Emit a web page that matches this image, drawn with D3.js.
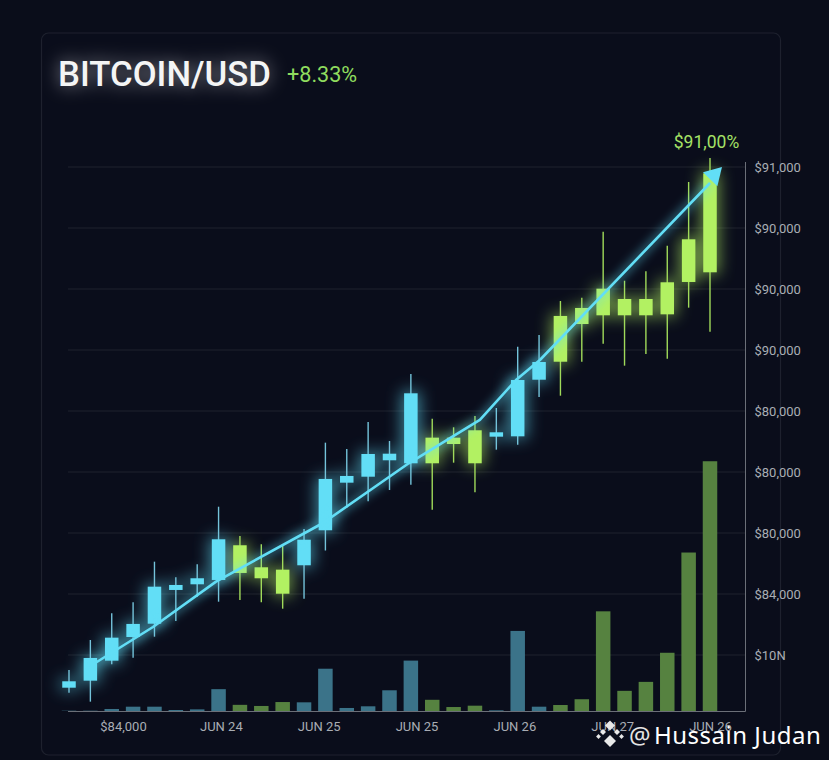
<!DOCTYPE html>
<html>
<head>
<meta charset="utf-8">
<title>Bitcoin/USD</title>
<script src="https://cdn.jsdelivr.net/npm/d3@7"></script>
<style>
  html, body { margin: 0; padding: 0; background: #0a0d1a; }
  svg { display: block; }
  text { font-family: Roboto, sans-serif; }
</style>
</head>
<body>
<div id="chart"></div>
<script>
// Candles, left to right. Side 0 = cyan, 1 = green
const highs = [82754,83246,83684,83864,84530,84274,84487,85431,84951,84815,84820,85066,86481,86377,86820,86508,87607,86874,86733,86918,87049,88054,88246,88803,88858,89939,89136,89290,89710,90754,91148];
const lows = [82382,82235,82848,82956,83300,83558,83956,83874,83902,83864,83759,83923,84713,85415,85520,85705,85792,85382,86153,85667,86366,86448,87230,87251,87808,88103,87743,87935,87858,88694,88300];
const bodyTops = [82569,82951,83284,83509,84120,84148,84258,84897,84799,84438,84399,84890,85886,85935,86295,86300,87290,86563,86563,86684,86651,87508,87803,88558,88689,89005,88836,88836,89110,89815,90897];
const bodyBottoms = [82464,82579,82907,83295,83513,84066,84159,84230,84345,84258,84005,84471,85045,85825,85923,86192,86143,86143,86459,86143,86579,86585,87513,87808,88426,88569,88569,88569,88585,89115,89274];
const sides = [0,0,0,0,0,0,0,0,1,1,1,0,0,0,0,0,0,1,1,1,0,0,0,1,1,1,1,1,1,1,1];
const volumes = [0.05,0.05,0.36,0.77,0.77,0.18,0.29,3.9,1.1,0.9,1.6,1.55,7.55,0.54,0.84,3.7,9,2,0.71,0.95,0.12,14.3,0.77,1.07,2.1,17.8,3.6,5.2,10.4,28.3,44.6];

// Trend arrow: position in candle units and price
const trendIndex = [1,3.93,6.88,11.89,15.9,19.23,20.92,22.04,30,30.56];
const trendPrice = [82820,83459,84202,85164,86143,86853,87508,87836,90738,91000];

const priceTicks = [91000,90000,89000,88000,87000,86000,85000,84000];
const priceLabels = ['$91,000','$90,000','$90,000','$90,000','$80,000','$80,000','$80,000','$84,000'];
const volumeTicks = [10];
const volumeLabels = ['$10N'];
const dateLabels = ['$84,000','JUN 24','JUN 25','JUN 25','JUN 26','JUN 27','JUN 26'];

const width = 829;
const height = 760;
const cyan = '#62def6';
const green = '#b2f162';

const svg = d3.select('#chart').append('svg')
  .attr('width', width)
  .attr('height', height)
  .attr('viewBox', `0 0 ${width} ${height}`);

const defs = svg.append('defs');
function blur(id, amount) {
  defs.append('filter').attr('id', id)
    .attr('x', '-60%').attr('y', '-60%').attr('width', '220%').attr('height', '220%')
    .append('feGaussianBlur').attr('stdDeviation', amount);
}
blur('glow', 8);
blur('titleGlow', 9);
// the line is nearly flat in places so its glow filter works in user space
defs.append('filter').attr('id', 'lineGlow')
  .attr('filterUnits', 'userSpaceOnUse')
  .attr('x', 0).attr('y', 100).attr('width', width).attr('height', 640)
  .append('feGaussianBlur').attr('stdDeviation', 5);

// Scales
const x = d3.scaleLinear().domain([0, 30]).range([69, 710]);
const y = d3.scaleLinear().domain([84000, 91000]).range([594, 167]);
const yVol = d3.scaleLinear().domain([0, 10]).range([711, 655]);
const xDates = d3.scalePoint().domain(d3.range(dateLabels.length)).range([123, 710]);
const color = i => sides[i] ? green : cyan;
const candles = d3.range(highs.length);

// Panel
svg.append('rect')
  .attr('x', 41.5).attr('y', 33).attr('width', 739).attr('height', 722).attr('rx', 7)
  .attr('fill', '#0a0d1b').attr('stroke', '#1e212e').attr('stroke-width', 1.2);

// Title
svg.append('text').attr('x', 58).attr('y', 86)
  .attr('font-size', 35).attr('font-weight', 500).attr('fill', '#ffffff')
  .attr('filter', 'url(#titleGlow)').attr('opacity', 0.55)
  .attr('textLength', 213).attr('lengthAdjust', 'spacingAndGlyphs')
  .text('BITCOIN/USD');
svg.append('text').attr('x', 58).attr('y', 86)
  .attr('font-size', 35).attr('font-weight', 500).attr('fill', '#f4f5f5')
  .attr('textLength', 213).attr('lengthAdjust', 'spacingAndGlyphs')
  .text('BITCOIN/USD');
svg.append('text').attr('x', 287).attr('y', 82)
  .attr('font-size', 21.6).attr('fill', '#8fdc5e')
  .text('+8.33%');

// Gridlines
const gridValues = priceTicks.map(d => y(d)).concat(volumeTicks.map(d => yVol(d)));
svg.append('g').selectAll('line').data(gridValues).enter().append('line')
  .attr('x1', 68).attr('x2', 745)
  .attr('y1', d => d).attr('y2', d => d)
  .attr('stroke', '#ffffff').attr('stroke-opacity', 0.085).attr('stroke-width', 1);

// Right axis, price ticks then the volume tick
function styleAxis(g) {
  g.select('.domain').remove();
  g.selectAll('.tick line').remove();
  g.selectAll('.tick text')
    .attr('fill', '#a9adb4').attr('font-size', 13).attr('x', 9.5)
    .style('font-family', 'Roboto, sans-serif');
}
svg.append('g').attr('transform', 'translate(745,0)')
  .call(d3.axisRight(y).tickValues(priceTicks).tickFormat((d, i) => priceLabels[i]))
  .call(styleAxis);
svg.append('g').attr('transform', 'translate(745,0)')
  .call(d3.axisRight(yVol).tickValues(volumeTicks).tickFormat((d, i) => volumeLabels[i]))
  .call(styleAxis);

// Axis frame
svg.append('line').attr('x1', 745.5).attr('x2', 745.5).attr('y1', 162).attr('y2', 711.5)
  .attr('stroke', '#6b6f78').attr('stroke-width', 1);
svg.append('line').attr('x1', 68).attr('x2', 745.5).attr('y1', 711.5).attr('y2', 711.5)
  .attr('stroke', '#6b6f78').attr('stroke-width', 1);

// Date labels
svg.append('g').attr('transform', 'translate(0,711)')
  .call(d3.axisBottom(xDates).tickFormat(i => dateLabels[i]).tickSize(0).tickPadding(11))
  .call(g => {
    g.select('.domain').remove();
    g.selectAll('.tick text').attr('fill', '#a9adb4').attr('font-size', 13)
      .style('font-family', 'Roboto, sans-serif');
  });

// Volume bars
svg.append('g').selectAll('rect').data(candles).enter().append('rect')
  .attr('x', i => x(i) - 7.25)
  .attr('width', 14.5)
  .attr('y', i => yVol(volumes[i]))
  .attr('height', i => yVol(0) - yVol(volumes[i]))
  .attr('fill', i => sides[i] ? '#568240' : '#3b7389');

// Candle glow
svg.append('g').attr('filter', 'url(#glow)').attr('opacity', 0.6)
  .selectAll('rect').data(candles).enter().append('rect')
  .attr('x', i => x(i) - 9)
  .attr('width', 18)
  .attr('y', i => y(bodyTops[i]) - 2)
  .attr('height', i => y(bodyBottoms[i]) - y(bodyTops[i]) + 4)
  .attr('fill', color);

// Wicks
svg.append('g').selectAll('line').data(candles).enter().append('line')
  .attr('x1', i => x(i)).attr('x2', i => x(i))
  .attr('y1', i => y(highs[i])).attr('y2', i => y(lows[i]))
  .attr('stroke', i => sides[i] ? '#a0da5a' : '#74c3da')
  .attr('stroke-width', 1.4);

// Bodies
svg.append('g').selectAll('rect').data(candles).enter().append('rect')
  .attr('x', i => x(i) - 6.75)
  .attr('width', 13.5)
  .attr('y', i => y(bodyTops[i]))
  .attr('height', i => y(bodyBottoms[i]) - y(bodyTops[i]))
  .attr('fill', color);

// Trend line, stops short of the tip so the arrow head closes it
const trendLine = d3.line()
  .x((d, i) => x(trendIndex[i]))
  .y((d, i) => y(d));
const shaft = trendPrice.slice(0, -1);
svg.append('path').datum(shaft).attr('d', trendLine)
  .attr('fill', 'none').attr('stroke', cyan).attr('stroke-width', 8)
  .attr('opacity', 0.4).attr('filter', 'url(#lineGlow)');
svg.append('path').datum(shaft).attr('d', trendLine)
  .attr('fill', 'none').attr('stroke', cyan).attr('stroke-width', 2.6)
  .attr('stroke-linejoin', 'round');

// Arrow head at the last trend point
const tipX = x(trendIndex[trendIndex.length - 1]);
const tipY = y(trendPrice[trendPrice.length - 1]);
svg.append('path')
  .attr('d', 'M0,0 L-17,-10 L-17,10 Z')
  .attr('transform', `translate(${tipX},${tipY}) rotate(-46)`)
  .attr('fill', cyan);

svg.append('text').attr('x', 706.5).attr('y', 148).attr('text-anchor', 'middle')
  .attr('font-size', 17.5).attr('fill', '#a5e266')
  .text('$91,00%');

// Watermark
const mark = svg.append('g').attr('transform', 'translate(610,733)').attr('fill', '#e8e8e8');
[[0,-7.5,5],[-7,-1,3],[7,-1,3],[0,8,6],[-11.5,3.5,2.4],[11.5,3.5,2.4]].forEach(([cx, cy, r]) => {
  mark.append('path')
    .attr('d', `M${cx},${cy - r} L${cx + r},${cy} L${cx},${cy + r} L${cx - r},${cy} Z`);
});
svg.append('text').attr('x', 629).attr('y', 744)
  .attr('font-size', 24).attr('fill', '#e4e4e4')
  .style('font-family', '"Noto Sans", sans-serif')
  .text('@');
svg.append('text').attr('x', 654).attr('y', 744)
  .attr('font-size', 24).attr('fill', '#ffffff').attr('letter-spacing', 0.5)
  .style('font-family', '"Noto Sans", sans-serif')
  .text('Hussain Judan');
</script>
</body>
</html>
